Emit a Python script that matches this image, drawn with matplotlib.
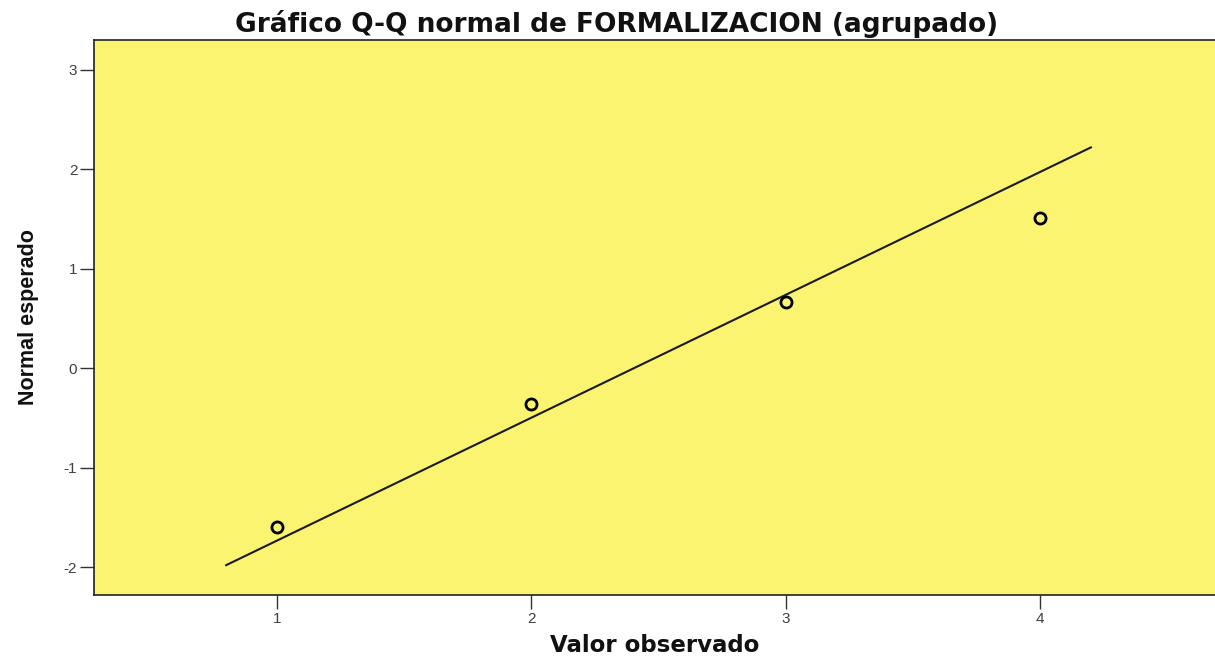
import matplotlib
matplotlib.use('Agg')
import matplotlib.pyplot as plt
from matplotlib import font_manager

# Data
obs_values = [1, 2, 3, 4]
expected_normal = [-1.60, -0.36, 0.67, 1.51]
line_x = [0.80, 4.20]
line_y = [-1.98, 2.22]
xticks = [1, 2, 3, 4]
yticks = [-2, -1, 0, 1, 2, 3]

names = {f.name for f in font_manager.fontManager.ttflist}
narrow = 'Liberation Sans Narrow' if 'Liberation Sans Narrow' in names else 'Liberation Sans'

plt.rcParams['font.family'] = ['Liberation Sans', 'DejaVu Sans']
plt.rcParams['axes.unicode_minus'] = False

fig = plt.figure(figsize=(12.15, 6.57), dpi=100)
ax = fig.add_axes([94/1215, 1 - 595/657, 1 - 94/1215, 555/657])
ax.set_facecolor('#faf470')

ax.plot(line_x, line_y, color='#1a1a1a', linewidth=1.5)
ax.plot(obs_values, expected_normal, linestyle='none', marker='o', markersize=8,
        markerfacecolor='none', markeredgecolor='black', markeredgewidth=2)

ax.set_xlim(0.2804, 4.688)
ax.set_ylim(-2.28, 3.30)
ax.set_xticks(xticks)
ax.set_yticks(yticks)
ax.tick_params(direction='out', length=10, width=1, colors='#333333', labelsize=11, pad=2)
ax.tick_params(axis='both', labelcolor='#404040')
for s in ax.spines.values():
    s.set_color('#222222')
    s.set_linewidth(1.2)
ax.spines['right'].set_visible(False)

# title is centred on the figure, not on the axes
ax.set_title('Gráfico Q-Q normal de FORMALIZACION (agrupado)', fontsize=19,
             fontweight='bold', family=['DejaVu Sans'], color='#111111', pad=6,
             x=(617 - 94) / 1121)
ax.set_xlabel('Valor observado', fontsize=16.5, fontweight='bold', family=['DejaVu Sans'],
              color='#111111')
ax.xaxis.label.set_va('baseline')
ax.xaxis.set_label_coords((655 - 94) / 1121, (595 - 652) / 555)
ax.set_ylabel('Normal esperado', fontsize=15.5, fontweight='bold', family=[narrow, 'DejaVu Sans'],
              color='#111111', labelpad=18)

plt.savefig('out.png', dpi=100)
